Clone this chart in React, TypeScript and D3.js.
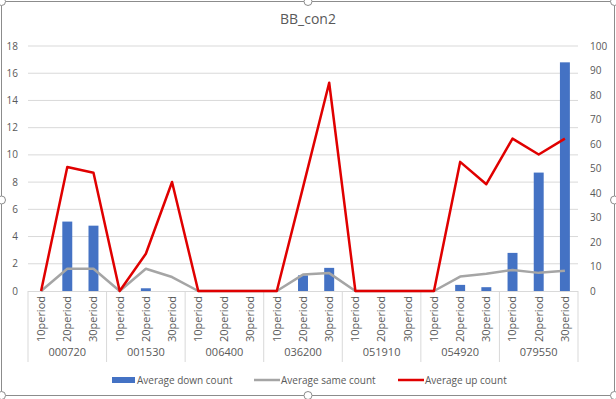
import React from 'react';
import * as d3 from 'd3';

// stock codes (outer categories) and periods (inner categories)
const groups = ['000720', '001530', '006400', '036200', '051910', '054920', '079550'];
const periods = ['10period', '20period', '30period'];

// bars, left axis
const downCount = [0, 5.1, 4.8, 0, 0.2, 0, 0, 0, 0, 0, 1.15, 1.7, 0, 0, 0, 0, 0.45, 0.28, 2.8, 8.7, 16.8];
// lines, right axis
const sameCount = [0, 9.1, 9.1, 0, 9.1, 5.7, 0, 0, 0, 0, 6.7, 7.3, 0, 0, 0, 0, 5.9, 7.0, 8.6, 7.4, 8.3];
const upCount = [0, 50.6, 48.3, 0, 15.2, 44.5, 0, 0, 0, 0, 42.3, 85, 0, 0, 0, 0, 52.7, 43.6, 62.2, 55.7, 62.2];

const leftTicks = [0, 2, 4, 6, 8, 10, 12, 14, 16, 18];
const rightTicks = [0, 10, 20, 30, 40, 50, 60, 70, 80, 90, 100];

const W = 616;
const H = 399;
const margin = { top: 46, right: 38, bottom: 108, left: 28 };
const font = "'Open Sans', 'Liberation Sans', sans-serif";
const textColor = '#595959';

const App = () => {
    const cats = groups.flatMap(g => periods.map(p => `${g}|${p}`));
    const plotRight = W - margin.right;
    const plotBottom = H - margin.bottom;

    const x = d3.scaleBand().domain(cats).range([margin.left, plotRight]).padding(0);
    const yL = d3.scaleLinear().domain([0, 18]).range([plotBottom, margin.top]);
    const yR = d3.scaleLinear().domain([0, 100]).range([plotBottom, margin.top]);
    const bw = x.bandwidth();
    const barW = bw * 0.38;
    const cx = (c: string) => (x(c) ?? 0) + bw / 2;

    const sameLine = d3.line<number>().x((_, i) => cx(cats[i])).y(d => yR(d));
    const upLine = d3.line<number>().x((_, i) => cx(cats[i])).y(d => yR(d));

    const axisBottom = plotBottom + 71;
    const legendY = 380;

    return (
        <svg width={W} height={H} style={{ position: 'absolute', left: 0, top: 0 }} fontFamily={font}>
            <rect x={0} y={0} width={W} height={H} fill="#fff" />
            {/* chart frame with selection handles */}
            <rect x={1.5} y={1.5} width={W - 3} height={H - 5} rx={4} fill="none" stroke="#8c8c8c" strokeWidth={1} />
            {[[1.5, 1.5], [W / 2, 1.5], [W - 1.5, 1.5], [1.5, 200], [W - 1.5, 200], [1.5, H - 3.5], [W / 2, H - 3.5], [W - 1.5, H - 3.5]].map(([hx, hy], i) => (
                <circle key={i} cx={hx} cy={hy} r={4} fill="#fff" stroke="#8c8c8c" />
            ))}

            <text x={W / 2} y={24} textAnchor="middle" fontSize={14} fill={textColor}>BB_con2</text>

            {/* gridlines */}
            {leftTicks.slice(1).map(t => (
                <line key={t} x1={margin.left} x2={plotRight} y1={yL(t)} y2={yL(t)} stroke="#d9d9d9" />
            ))}

            {/* left ticks */}
            {leftTicks.map(t => (
                <text key={t} x={18} y={yL(t)} dy="0.35em" textAnchor="end" fontSize={10} fill={textColor}>{t}</text>
            ))}
            {/* right ticks */}
            {rightTicks.map(t => (
                <text key={t} x={590} y={yR(t)} dy="0.35em" textAnchor="start" fontSize={10} fill={textColor}>{t}</text>
            ))}

            {/* bars */}
            {cats.map((c, i) => downCount[i] > 0 ? (
                <rect key={c} x={cx(c) - barW / 2} y={yL(downCount[i])} width={barW}
                    height={plotBottom - yL(downCount[i])} fill="#4472c4" />
            ) : null)}

            {/* x axis */}
            <line x1={margin.left} x2={plotRight} y1={plotBottom + 0.5} y2={plotBottom + 0.5} stroke="#d9d9d9" />
            {groups.map(g => (
                <line key={g} x1={x(`${g}|10period`)} x2={x(`${g}|10period`)} y1={plotBottom} y2={axisBottom} stroke="#d9d9d9" />
            ))}
            <line x1={plotRight} x2={plotRight} y1={plotBottom} y2={axisBottom} stroke="#d9d9d9" />
            {cats.map(c => (
                <text key={c} transform={`translate(${cx(c)},${plotBottom + 5}) rotate(-90)`} dy="0.35em"
                    textAnchor="end" fontSize={11} fill={textColor}>{c.split('|')[1]}</text>
            ))}
            {groups.map(g => (
                <text key={g} x={cx(`${g}|20period`)} y={plotBottom + 65} textAnchor="middle" fontSize={11} fill={textColor}>{g}</text>
            ))}

            {/* lines */}
            <path d={sameLine(sameCount) ?? ''} fill="none" stroke="#a5a5a5" strokeWidth={2.5} strokeLinejoin="round" />
            <path d={upLine(upCount) ?? ''} fill="none" stroke="#e00000" strokeWidth={2.5} strokeLinejoin="round" />

            {/* legend */}
            <rect x={112} y={legendY - 3} width={23} height={6} fill="#4472c4" />
            <text x={137} y={legendY} dy="0.35em" fontSize={10} fill={textColor}>Average down count</text>
            <line x1={254} x2={280} y1={legendY} y2={legendY} stroke="#a5a5a5" strokeWidth={2.5} />
            <text x={281} y={legendY} dy="0.35em" fontSize={10} fill={textColor}>Average same count</text>
            <line x1={398} x2={424} y1={legendY} y2={legendY} stroke="#e00000" strokeWidth={2.5} />
            <text x={425} y={legendY} dy="0.35em" fontSize={10} fill={textColor}>Average up count</text>
        </svg>
    );
};

export default App;
